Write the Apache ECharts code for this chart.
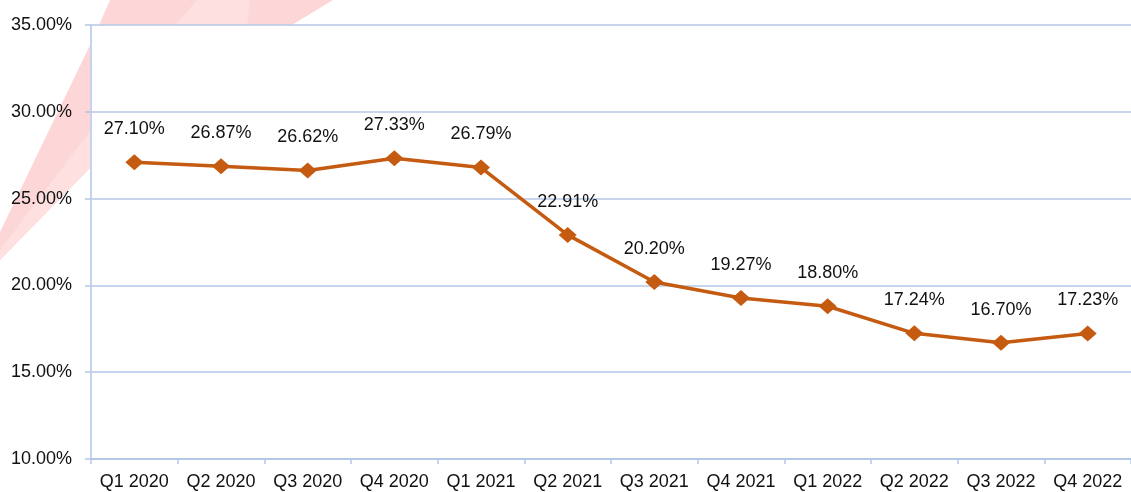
<!DOCTYPE html>
<html>
<head>
<meta charset="utf-8">
<script src="https://cdn.jsdelivr.net/npm/echarts@6/dist/echarts.min.js"></script>
<style>
  html, body { margin: 0; padding: 0; background: #fff; }
  #chart { width: 1131px; height: 492px; }
</style>
</head>
<body>
<div id="chart"></div>
<script>
// Quarterly rate, in percent
const quarters = ['Q1 2020', 'Q2 2020', 'Q3 2020', 'Q4 2020', 'Q1 2021', 'Q2 2021',
                  'Q3 2021', 'Q4 2021', 'Q1 2022', 'Q2 2022', 'Q3 2022', 'Q4 2022'];
const rates = [27.10, 26.87, 26.62, 27.33, 26.79, 22.91, 20.20, 19.27, 18.80, 17.24, 16.70, 17.23];
const yTicks = [10, 15, 20, 25, 30, 35];

const FONT = '"Liberation Sans Narrow", "Arial Narrow", "Liberation Sans", Arial, sans-serif';
const FONT_SIZE = 18;
const BLUE = '#b4c7e7';
const PINK = '#fdd7d8';
const PINK_LIGHT = '#fee0e0';

const chart = echarts.init(document.getElementById('chart'), null, { renderer: 'canvas' });

chart.setOption({
  animation: false,
  backgroundColor: '#ffffff',
  textStyle: { fontFamily: FONT },
  // decorative ribbon behind the plot area
  graphic: [
    { type: 'polygon', z: -10, silent: true,
      shape: { points: [[0, 232], [91, 43], [91, 167], [0, 260]] },
      style: { fill: PINK } },
    { type: 'polygon', z: -9, silent: true,
      shape: { points: [[0, 250], [91, 130], [91, 167], [0, 260]] },
      style: { fill: PINK_LIGHT } },
    { type: 'polygon', z: -10, silent: true,
      shape: { points: [[99, 25], [110, 0], [333, 0], [292, 25]] },
      style: { fill: PINK } },
    { type: 'polygon', z: -9, silent: true,
      shape: { points: [[175, 25], [197, 0], [250, 0], [247, 25]] },
      style: { fill: PINK_LIGHT } }
  ],
  grid: {
    left: 91, right: -4, top: 25, bottom: 33,
    show: true, backgroundColor: '#ffffff', borderWidth: 0
  },
  xAxis: {
    type: 'category',
    data: quarters,
    boundaryGap: true,
    axisLine: { show: true, lineStyle: { color: BLUE, width: 2 } },
    axisTick: { show: true, length: 5, lineStyle: { color: BLUE, width: 1.5 } },
    axisLabel: { color: '#111', fontSize: FONT_SIZE, fontFamily: FONT, margin: 14, interval: 0 },
    splitLine: { show: false }
  },
  yAxis: {
    type: 'value',
    min: yTicks[0],
    max: yTicks[yTicks.length - 1],
    interval: 5,
    axisLine: { show: true, lineStyle: { color: '#c5d4ee', width: 2 } },
    axisTick: { show: true, length: 6, lineStyle: { color: BLUE, width: 1.5 } },
    axisLabel: {
      color: '#111', fontSize: FONT_SIZE, fontFamily: FONT, margin: 19,
      formatter: v => v.toFixed(2) + '%'
    },
    splitLine: { show: true, lineStyle: { color: BLUE, width: 1.5 } }
  },
  series: [{
    type: 'line',
    data: rates,
    symbol: 'diamond',
    symbolSize: [18, 16],
    lineStyle: { color: '#c55a11', width: 3.5 },
    itemStyle: { color: '#c55a11' },
    label: {
      show: true,
      position: 'top',
      distance: 16,
      color: '#111',
      fontSize: FONT_SIZE,
      fontFamily: FONT,
      formatter: p => p.value.toFixed(2) + '%'
    }
  }]
});
</script>
</body>
</html>
